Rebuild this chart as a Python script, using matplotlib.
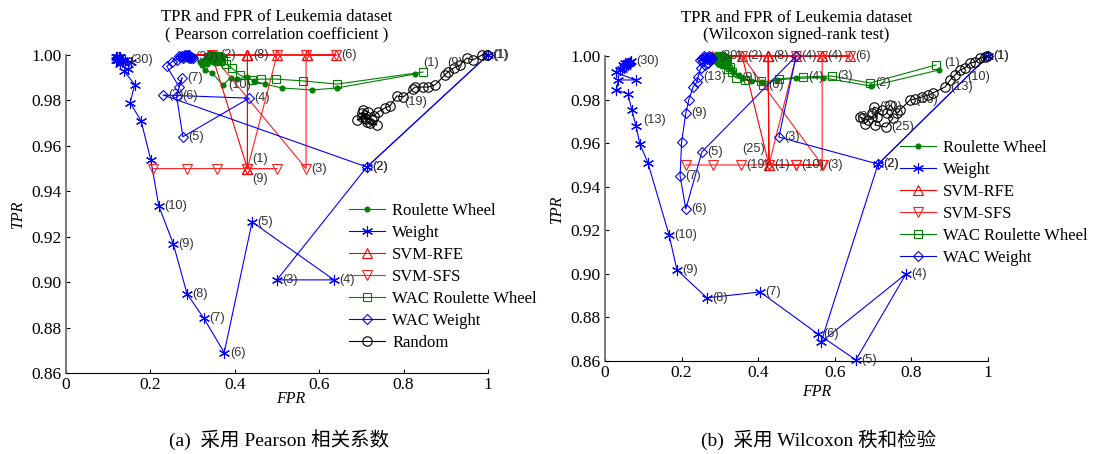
import matplotlib
matplotlib.use('Agg')
import matplotlib.pyplot as plt

plt.rcParams['font.family'] = ['Liberation Serif', 'Noto Sans CJK SC', 'DejaVu Sans']

# ---------------- (a) Pearson ----------------
a_rw_x = [0.827, 0.642, 0.583, 0.512, 0.472, 0.445, 0.429, 0.405, 0.390, 0.372, 0.346, 0.329, 0.322, 0.335, 0.318,
          0.342, 0.352, 0.330, 0.360, 0.338, 0.325, 0.348, 0.356, 0.333, 0.344, 0.327, 0.350, 0.340, 0.336, 0.345]
a_rw_y = [0.9916, 0.9855, 0.9846, 0.9855, 0.9872, 0.9886, 0.9903, 0.9895, 0.9900, 0.9868, 0.9921, 0.9934, 0.9956,
          0.9960, 0.9970, 0.9975, 0.9965, 0.9980, 0.9970, 0.9985, 0.9975, 0.9990, 0.9980, 0.9990, 0.9985, 0.9980,
          0.9995, 0.9990, 0.9985, 0.9990]
a_w_x = [1.0, 0.713, 0.500, 0.635, 0.441, 0.375, 0.327, 0.287, 0.254, 0.220, 0.201, 0.178, 0.152, 0.163, 0.137,
         0.147, 0.155, 0.128, 0.121, 0.132, 0.125, 0.118, 0.136, 0.127, 0.122, 0.130, 0.124, 0.119, 0.126, 0.140]
a_w_y = [1.0, 0.9507, 0.901, 0.901, 0.9265, 0.869, 0.884, 0.8948, 0.917, 0.9335, 0.9538, 0.971, 0.979, 0.987, 0.993,
         0.994, 0.997, 0.996, 0.998, 0.997, 0.999, 0.998, 0.998, 0.999, 0.999, 0.998, 0.998, 0.999, 0.999, 0.998]
a_rfe_x = [0.43, 0.346, 0.43, 0.50, 0.571, 0.64, 0.571, 0.43, 0.43, 0.43, 0.287, 0.43]
a_rfe_y = [0.95, 1.0, 1.0, 1.0, 1.0, 1.0, 1.0, 1.0, 0.95, 1.0, 1.0, 1.0]
a_sfs_x = [0.64, 0.346, 0.569, 0.569, 0.50, 0.43, 0.50, 0.43, 0.358, 0.287, 0.206]
a_sfs_y = [1.0, 1.0, 0.95, 1.0, 1.0, 0.95, 0.95, 0.95, 0.95, 0.95, 0.95]
a_wrw_x = [0.846, 0.642, 0.562, 0.498, 0.462, 0.441, 0.412, 0.393, 0.379, 0.360, 0.352, 0.345, 0.365, 0.338, 0.372,
           0.355, 0.348, 0.362, 0.340, 0.368, 0.357, 0.350, 0.343, 0.366, 0.359, 0.347, 0.354, 0.361, 0.351, 0.358]
a_wrw_y = [0.9925, 0.9872, 0.9886, 0.9894, 0.9894, 0.9890, 0.9912, 0.9943, 0.9960, 0.9978, 0.9980, 0.9985, 0.9975,
           0.9990, 0.9980, 0.9990, 0.9995, 0.9985, 0.9990, 0.9980, 0.9995, 0.9990, 0.9985, 0.9990, 0.9980, 0.9995,
           0.9990, 0.9985, 0.9990, 0.9995]
a_ww_x = [1.0, 0.713, 0.230, 0.434, 0.277, 0.262, 0.275, 0.268, 0.239, 0.251, 0.262, 0.270, 0.285, 0.278, 0.290,
          0.268, 0.296, 0.282, 0.274, 0.288, 0.300, 0.292, 0.279, 0.286, 0.297, 0.283, 0.291, 0.276, 0.289, 0.294]
a_ww_y = [1.0, 0.9507, 0.9824, 0.981, 0.964, 0.982, 0.990, 0.986, 0.995, 0.997, 0.998, 0.999, 0.9995, 0.9985, 0.999,
          0.9995, 0.9985, 1.0, 0.9995, 0.999, 0.9985, 1.0, 0.999, 0.9995, 0.999, 1.0, 0.9985, 0.9995, 1.0, 0.999]
a_rd_x = [0.998, 0.986, 0.964, 0.950, 0.934, 0.919, 0.905, 0.898, 0.874, 0.858, 0.846, 0.827, 0.822, 0.799, 0.784,
          0.768, 0.756, 0.739, 0.730, 0.716, 0.704, 0.701, 0.690, 0.709, 0.725, 0.737, 0.720, 0.713, 0.701, 0.712]
a_rd_y = [1.0, 1.0, 0.9978, 0.9987, 0.9956, 0.9943, 0.9925, 0.9912, 0.9868, 0.9859, 0.9859, 0.9859, 0.9850, 0.9815,
          0.9820, 0.9776, 0.9767, 0.9749, 0.9732, 0.9749, 0.9758, 0.9727, 0.9714, 0.9723, 0.9714, 0.9692, 0.9701,
          0.9705, 0.9745, 0.9720]

# ---------------- (b) Wilcoxon ----------------
b_rw_x = [0.872, 0.695, 0.569, 0.498, 0.449, 0.410, 0.380, 0.360, 0.350, 0.335, 0.328, 0.318, 0.305, 0.310, 0.295,
          0.300, 0.288, 0.315, 0.282, 0.296, 0.305, 0.290, 0.278, 0.302, 0.285, 0.298, 0.292, 0.308, 0.287, 0.285]
b_rw_y = [0.9936, 0.9862, 0.9900, 0.9898, 0.9890, 0.9880, 0.9885, 0.9900, 0.9912, 0.9925, 0.9940, 0.9950, 0.9955,
          0.9960, 0.9965, 0.9970, 0.9975, 0.9968, 0.9980, 0.9985, 0.9980, 0.9990, 0.9985, 0.9990, 0.9995, 0.9990,
          0.9985, 0.9995, 0.9990, 1.0]
b_w_x = [1.0, 0.713, 0.564, 0.786, 0.655, 0.556, 0.405, 0.266, 0.188, 0.167, 0.112, 0.091, 0.081, 0.070, 0.060,
         0.030, 0.035, 0.080, 0.028, 0.040, 0.045, 0.050, 0.055, 0.048, 0.058, 0.062, 0.052, 0.065, 0.060, 0.068]
b_w_y = [1.0, 0.9504, 0.8687, 0.900, 0.8605, 0.8724, 0.8917, 0.889, 0.9018, 0.918, 0.951, 0.9596, 0.9679, 0.9752,
         0.9826, 0.9844, 0.989, 0.989, 0.9925, 0.9935, 0.994, 0.995, 0.9955, 0.996, 0.9965, 0.997, 0.9968, 0.9972,
         0.997, 0.9975]
b_rfe_x = [0.428, 0.358, 0.426, 0.499, 0.567, 0.64, 0.567, 0.426, 0.428, 0.426, 0.28, 0.426]
b_rfe_y = [0.95, 1.0, 1.0, 1.0, 1.0, 1.0, 1.0, 1.0, 0.95, 1.0, 1.0, 1.0]
b_sfs_x = [0.64, 0.358, 0.567, 0.567, 0.499, 0.428, 0.499, 0.569, 0.499, 0.428, 0.355, 0.282, 0.211]
b_sfs_y = [1.0, 1.0, 0.95, 1.0, 1.0, 0.95, 0.95, 0.95, 0.95, 0.95, 0.95, 0.95, 0.95]
b_wrw_x = [0.864, 0.692, 0.593, 0.517, 0.454, 0.413, 0.407, 0.365, 0.342, 0.331, 0.326, 0.313, 0.320, 0.305, 0.298,
           0.312, 0.290, 0.303, 0.318, 0.295, 0.308, 0.285, 0.300, 0.315, 0.292, 0.306, 0.297, 0.310, 0.288, 0.302]
b_wrw_y = [0.9959, 0.9876, 0.9908, 0.9904, 0.9895, 0.9867, 0.9885, 0.9890, 0.9900, 0.9927, 0.9950, 0.9968, 0.9940,
           0.9970, 0.9980, 0.9975, 0.9985, 0.9990, 0.9980, 0.9995, 0.9990, 0.9985, 1.0, 0.9985, 0.9990, 0.9995, 1.0,
           0.9990, 0.9995, 1.0]
b_ww_x = [1.0, 0.713, 0.454, 0.499, 0.253, 0.211, 0.196, 0.200, 0.211, 0.219, 0.230, 0.240, 0.243, 0.250, 0.262,
          0.255, 0.270, 0.248, 0.265, 0.275, 0.258, 0.268, 0.280, 0.252, 0.272, 0.262, 0.277, 0.258, 0.266, 0.274]
b_ww_y = [1.0, 0.9504, 0.9628, 1.0, 0.956, 0.9298, 0.945, 0.9605, 0.9738, 0.980, 0.9858, 0.988, 0.9904, 0.9945,
          0.996, 0.9975, 0.997, 0.998, 0.9985, 0.998, 0.999, 0.9995, 0.999, 0.9985, 1.0, 0.9995, 0.9985, 1.0, 0.999,
          0.9995]
b_rd_x = [0.998, 0.992, 0.979, 0.966, 0.953, 0.940, 0.927, 0.914, 0.901, 0.888, 0.856, 0.843, 0.828, 0.809, 0.796,
          0.770, 0.762, 0.744, 0.736, 0.752, 0.734, 0.705, 0.710, 0.697, 0.702, 0.723, 0.687, 0.674, 0.666, 0.680]
b_rd_y = [1.0, 0.9995, 0.9991, 0.9972, 0.9968, 0.9945, 0.9936, 0.9913, 0.9890, 0.9858, 0.9830, 0.9821, 0.9812,
          0.9803, 0.9798, 0.9752, 0.9738, 0.9775, 0.9738, 0.9715, 0.9674, 0.9683, 0.9720, 0.9738, 0.9766, 0.9752,
          0.9706, 0.9715, 0.9720, 0.9690]

names = {'rw': 'Roulette Wheel', 'w': 'Weight', 'rfe': 'SVM-RFE', 'sfs': 'SVM-SFS',
         'wrw': 'WAC Roulette Wheel', 'ww': 'WAC Weight', 'rd': 'Random'}

# point labels: (series, point index, text)
a_labels = [('w', 0, '(1)'), ('w', 1, '(2)'), ('w', 2, '(3)'), ('w', 3, '(4)'), ('w', 4, '(5)'), ('w', 5, '(6)'),
            ('w', 6, '(7)'), ('w', 7, '(8)'), ('w', 8, '(9)'), ('w', 9, '(10)'), ('w', 29, '(30)'),
            ('ww', 1, '(2)'), ('ww', 2, '(3)'), ('ww', 3, '(4)'), ('ww', 4, '(5)'), ('ww', 5, '(6)'),
            ('ww', 6, '(7)'), ('ww', 29, '(30)'), ('rw', 9, '(10)'), ('wrw', 0, '(1)'),
            ('rfe', 0, '(1)'), ('rfe', 1, '(2)'), ('rfe', 7, '(8)'), ('rfe', 5, '(6)'),
            ('sfs', 2, '(3)'), ('sfs', 7, '(9)'),
            ('rd', 0, '(1)'), ('rd', 6, '(9)'), ('rd', 14, '(19)')]
b_labels = [('w', 0, '(1)'), ('w', 1, '(2)'), ('w', 3, '(4)'), ('w', 4, '(5)'), ('w', 5, '(6)'), ('w', 6, '(7)'),
            ('w', 7, '(8)'), ('w', 8, '(9)'), ('w', 9, '(10)'), ('w', 12, '(13)'), ('w', 29, '(30)'),
            ('ww', 1, '(2)'), ('ww', 2, '(3)'), ('ww', 4, '(5)'), ('ww', 5, '(6)'), ('ww', 6, '(7)'),
            ('ww', 8, '(9)'), ('ww', 12, '(13)'), ('rw', 29, '(30)'),
            ('wrw', 0, '(1)'), ('wrw', 1, '(2)'), ('wrw', 2, '(3)'), ('wrw', 3, '(4)'), ('wrw', 5, '(6)'),
            ('wrw', 8, '(9)'),
            ('rfe', 0, '(1)'), ('rfe', 7, '(8)'), ('rfe', 3, '(4)'), ('rfe', 5, '(6)'), ('rfe', 8, '(25)'),
            ('sfs', 1, '(2)'), ('sfs', 2, '(3)'), ('sfs', 3, '(4)'), ('sfs', 6, '(10)'), ('sfs', 10, '(19)'),
            ('rd', 0, '(1)'), ('rd', 7, '(10)'), ('rd', 9, '(13)'), ('rd', 14, '(16)'), ('rd', 24, '(20)'),
            ('rd', 20, '(25)'), ('rd', 28, '(30)')]

STYLE = {
    'rw': dict(color='#008000', marker='o', ms=3.6, mfc='#008000'),
    'w': dict(color='#0000ff', marker=(6, 2, 0), ms=8),
    'rfe': dict(color='#ff0000', marker='^', ms=7, mfc='none'),
    'sfs': dict(color='#ff2020', marker='v', ms=7, mfc='none'),
    'wrw': dict(color='#008000', marker='s', ms=6.3, mfc='none'),
    'ww': dict(color='#0000ff', marker='D', ms=5.3, mfc='none'),
    'rd': dict(color='black', marker='o', ms=6.8, mfc='none'),
}
# label offsets in points (dx, dy, ha)
a_off = {('wrw', 0): (0.5, 6.5, 'left'), ('rfe', 0): (3.6, 7.2, 'left'), ('sfs', 7): (3.6, -7.5, 'left'),
         ('rd', 6): (-0.7, 6.5, 'left'), ('rd', 14): (5.5, -4.3, 'left'), ('rfe', 1): (6, 0, 'left')}
b_off = {('rfe', 8): (-2.5, 11.5, 'right'), ('w', 12): (5, 4, 'left'), ('rd', 7): (9, -1.5, 'left'),
         ('rd', 28): (-3, 0, 'left'), ('wrw', 0): (6, 1.5, 'left')}


def draw(ax, data, labels, offsets, title):
    handles = []
    for key in ['rw', 'w', 'rfe', 'sfs', 'wrw', 'ww', 'rd']:
        xs, ys = data[key]
        h, = ax.plot(xs, ys, lw=0.8, mew=0.8, clip_on=False, label=names[key], **STYLE[key])
        handles.append(h)
    for key, i, txt in labels:
        xs, ys = data[key]
        dx, dy, ha = offsets.get((key, i), (4, 0, 'left'))
        ax.annotate(txt, (xs[i], ys[i]), xytext=(dx, dy), textcoords='offset points', ha=ha, va='center',
                    fontsize=9.2, color='#333333', family=['Liberation Sans', 'DejaVu Sans'],
                    annotation_clip=False)
    ax.set_xlim(0, 1)
    ax.set_ylim(0.86, 1.0)
    ax.set_xticks([0, 0.2, 0.4, 0.6, 0.8, 1])
    ax.set_xticklabels(['0', '0.2', '0.4', '0.6', '0.8', '1'])
    ax.set_yticks([0.86, 0.88, 0.90, 0.92, 0.94, 0.96, 0.98, 1.00])
    ax.set_yticklabels(['%.2f' % v for v in [0.86, 0.88, 0.90, 0.92, 0.94, 0.96, 0.98, 1.00]])
    ax.tick_params(direction='in', length=3, labelsize=12.5, pad=3)
    ax.spines['top'].set_visible(False)
    ax.spines['right'].set_visible(False)
    ax.spines['left'].set_color('#707070')
    ax.spines['left'].set_linewidth(1.3)
    ax.set_ylabel('TPR', style='italic', fontsize=11.5, labelpad=4)
    ax.set_xlabel('FPR', style='italic', fontsize=11.5)
    ax.set_title(title, fontsize=12, pad=12, linespacing=1.15)
    return handles


fig = plt.figure(figsize=(11, 4.54), dpi=100)
ax1 = fig.add_axes([0.06, 0.1784, 0.3836, 0.7004])
ax2 = fig.add_axes([0.55, 0.2048, 0.3482, 0.6718])

da = {'rw': (a_rw_x, a_rw_y), 'w': (a_w_x, a_w_y), 'rfe': (a_rfe_x, a_rfe_y), 'sfs': (a_sfs_x, a_sfs_y),
      'wrw': (a_wrw_x, a_wrw_y), 'ww': (a_ww_x, a_ww_y), 'rd': (a_rd_x, a_rd_y)}
db = {'rw': (b_rw_x, b_rw_y), 'w': (b_w_x, b_w_y), 'rfe': (b_rfe_x, b_rfe_y), 'sfs': (b_sfs_x, b_sfs_y),
      'wrw': (b_wrw_x, b_wrw_y), 'ww': (b_ww_x, b_ww_y), 'rd': (b_rd_x, b_rd_y)}

h1 = draw(ax1, da, a_labels, a_off, 'TPR and FPR of Leukemia dataset\n( Pearson correlation coefficient )')
h2 = draw(ax2, db, b_labels, b_off, 'TPR and FPR of Leukemia dataset\n(Wilcoxon signed-rank test)')
ax1.xaxis.set_label_coords(0.533, -0.057)
ax2.xaxis.set_label_coords(0.553, -0.075)

ax1.legend(handles=h1, loc='upper left', bbox_to_anchor=(0.317, 0.553), bbox_transform=fig.transFigure,
           frameon=False, fontsize=12, handlelength=2.2, handletextpad=0.4, labelspacing=0.36,
           borderpad=0, borderaxespad=0)
ax2.legend(handles=h2[:6], loc='upper left', bbox_to_anchor=(0.818, 0.691), bbox_transform=fig.transFigure,
           frameon=False, fontsize=12, handlelength=2.2, handletextpad=0.4, labelspacing=0.36,
           borderpad=0, borderaxespad=0)

fig.text(0.254, 0.031, '(a)  采用 Pearson 相关系数', ha='center', va='center', fontsize=14)
fig.text(0.744, 0.031, '(b)  采用 Wilcoxon 秩和检验', ha='center', va='center', fontsize=14)

fig.savefig('out.png', dpi=100)
